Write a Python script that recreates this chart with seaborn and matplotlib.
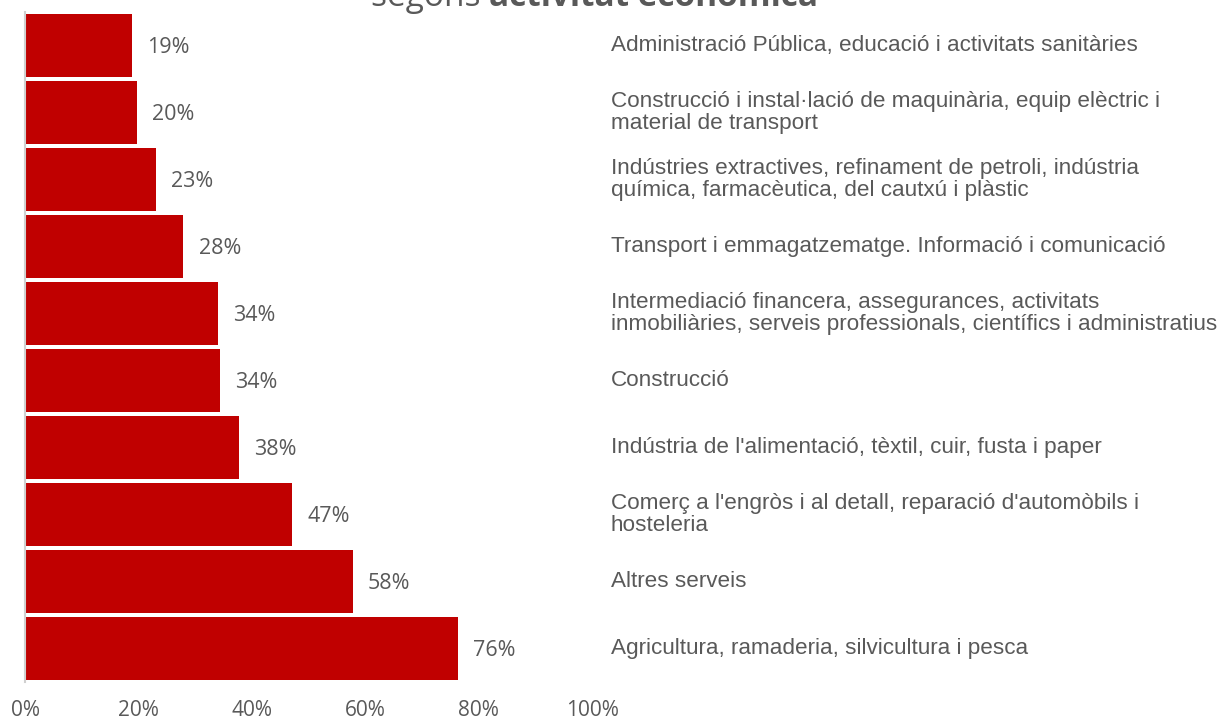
import matplotlib
matplotlib.use("Agg")
import matplotlib.pyplot as plt
import seaborn as sns
import pandas as pd

# Share per economic activity
sectors = [
    "Administració Pública, educació i activitats sanitàries",
    "Construcció i instal·lació de maquinària, equip elèctric i\nmaterial de transport",
    "Indústries extractives, refinament de petroli, indústria\nquímica, farmacèutica, del cautxú i plàstic",
    "Transport i emmagatzematge. Informació i comunicació",
    "Intermediació financera, assegurances, activitats\ninmobiliàries, serveis professionals, científics i administratius",
    "Construcció",
    "Indústria de l'alimentació, tèxtil, cuir, fusta i paper",
    "Comerç a l'engròs i al detall, reparació d'automòbils i\nhosteleria",
    "Altres serveis",
    "Agricultura, ramaderia, silvicultura i pesca",
]
values = [18.9, 19.7, 23.1, 27.9, 34.0, 34.4, 37.7, 47.1, 57.8, 76.4]
xticks = [0, 20, 40, 60, 80, 100]

df = pd.DataFrame({"sector": sectors, "value": values})

sns.set_theme(style="white")
plt.rcParams["font.family"] = ["Open Sans", "DejaVu Sans"]

fig = plt.figure(figsize=(12.22, 7.2), dpi=100)
ax = fig.add_axes([25 / 1222, 38 / 720, 567 / 1222, 670 / 720])

sns.barplot(data=df, x="value", y="sector", orient="h", color="#C00000",
            saturation=1, width=0.955, edgecolor="none", ax=ax)

ax.set_xlim(0, 100)
ax.set_ylim(len(sectors) - 0.5, -0.5)
ax.set_xticks(xticks)
ax.set_xticklabels([f"{t}%" for t in xticks], fontsize=15, color="#595959")
ax.tick_params(axis="x", length=0, pad=13)
ax.set_yticks([])
ax.set_xlabel("")
ax.set_ylabel("")
for side in ["top", "right", "bottom"]:
    ax.spines[side].set_visible(False)
ax.spines["left"].set_color("#d0d0d0")
ax.spines["left"].set_linewidth(1.5)

for i, (s, v) in enumerate(zip(sectors, values)):
    ax.text(v + 2.7, i + 0.03, f"{v:.0f}%", va="center", ha="left",
            fontsize=15.5, color="#595959")
    ax.text(103.3, i, s, va="center", ha="left", fontsize=16.2,
            color="#595959", family=["Liberation Sans", "DejaVu Sans"],
            linespacing=1.12, clip_on=False)

# Title (top part cut off in the original)
fig.text(0.40, 1 - 6 / 720, "segons ", ha="right", va="baseline",
         fontsize=24, color="#595959")
fig.text(0.40, 1 - 6 / 720, "activitat econòmica", ha="left", va="baseline",
         fontsize=24, color="#595959", fontweight="bold")

fig.savefig("out.png", dpi=100)
